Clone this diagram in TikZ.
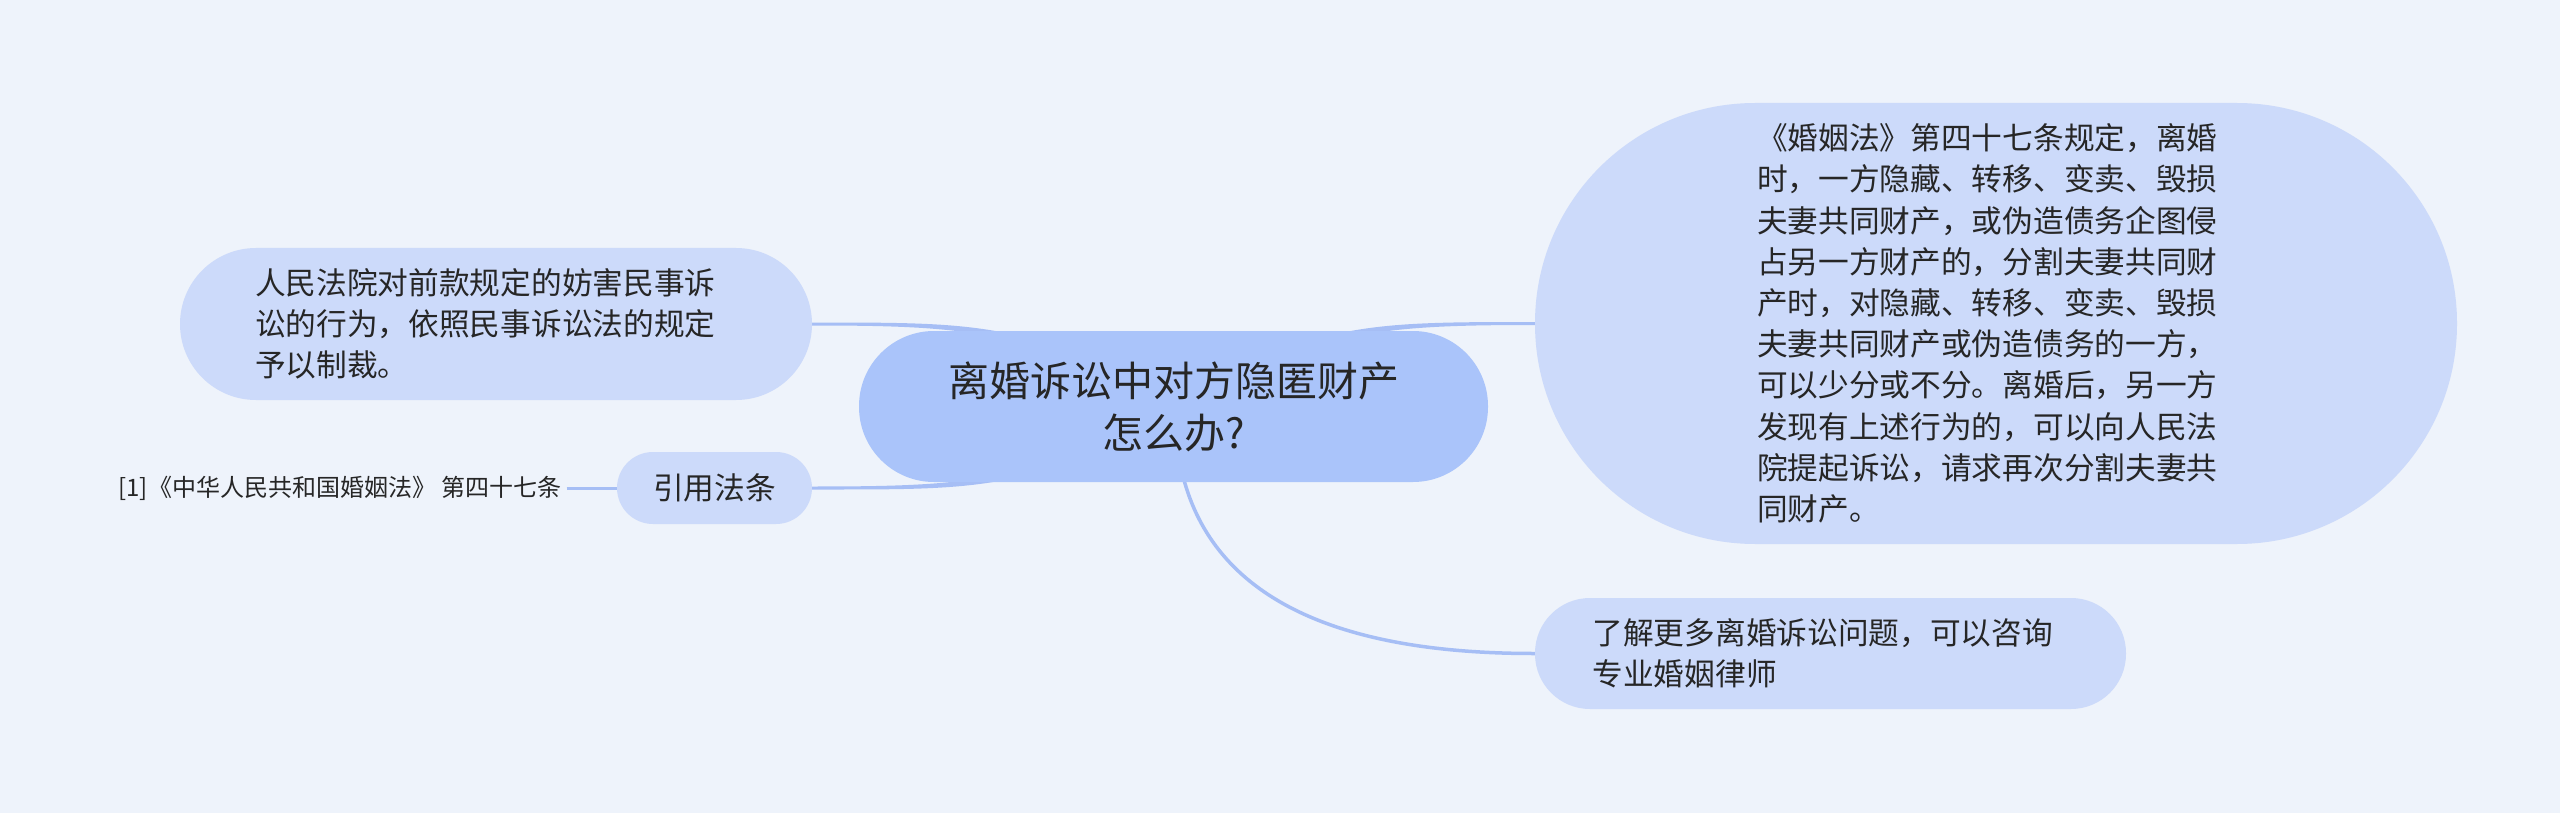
\documentclass[tikz,border=0pt]{standalone}
\usepackage{fontspec}
\newfontfamily\cjk{Noto Sans CJK SC}
\usetikzlibrary{calc}
\definecolor{bgc}{RGB}{238,243,251}
\definecolor{mainfill}{RGB}{170,196,250}
\definecolor{subfill}{RGB}{204,218,250}
\definecolor{linkc}{RGB}{166,190,245}
\definecolor{txt}{RGB}{38,38,38}
\pgfdeclarelayer{bgl}
\pgfdeclarelayer{links}
\pgfsetlayers{bgl,links,main}
\begin{document}
\begin{tikzpicture}[x=1pt,y=-1pt,
  centernode/.style={fill=mainfill, text=txt, rounded corners=75pt, minimum width=629pt, minimum height=151pt, align=center, font=\cjk\fontsize{41}{52}\selectfont, inner sep=0pt},
  subnode/.style={fill=subfill, text=txt, align=left, font=\cjk\fontsize{30.7}{41.2}\selectfont, inner sep=0pt},
  labeltext/.style={text=txt, font=\cjk\fontsize{24}{30}\selectfont, inner sep=5pt},
  link/.style={draw=linkc, line width=3.5pt},
  taperlink/.style={fill=linkc}
]
\begin{pgfonlayer}{bgl}
\fill[bgc] (0,0) rectangle (2560,813);
\end{pgfonlayer}
\useasboundingbox (0,0) rectangle (2560,813);

% central topic
\node[centernode] (c) at (1173.5,406.5) {离婚诉讼中对方隐匿财产\\怎么办?};

% left children
\node[subnode, rounded corners=76pt, minimum width=632pt, minimum height=152pt, text width=482pt] (l1) at (496,324)
  {人民法院对前款规定的妨害民事诉\\讼的行为，依照民事诉讼法的规定\\予以制裁。};
\node[subnode, rounded corners=36pt, minimum width=195pt, minimum height=72pt, align=center] (cite) at (714.5,488) {引用法条};
\node[labeltext] (ref) at (340,488) {[1]《中华人民共和国婚姻法》 第四十七条};

% right children
\node[subnode, rounded corners=220pt, minimum width=922pt, minimum height=441pt, text width=478pt] (law) at (1996,323.5)
  {《婚姻法》第四十七条规定，离婚\\时，一方隐藏、转移、变卖、毁损\\夫妻共同财产，或伪造债务企图侵\\占另一方财产的，分割夫妻共同财\\产时，对隐藏、转移、变卖、毁损\\夫妻共同财产或伪造债务的一方，\\可以少分或不分。离婚后，另一方\\发现有上述行为的，可以向人民法\\院提起诉讼，请求再次分割夫妻共\\同财产。};
\node[subnode, rounded corners=55pt, minimum width=591pt, minimum height=111pt, text width=476pt] (more) at (1830.5,653.5)
  {了解更多离婚诉讼问题，可以咨询\\专业婚姻律师};

\begin{pgfonlayer}{links}
% central -> l1
\fill[taperlink] ($(l1.east)+(0,-1.5)$) .. controls +(140,0) and +(-100,-40) .. ($(c.center)+(-73,-44)$)
  -- ($(c.center)+(-73,-36)$) .. controls +(-100,-40) and +(140,0) .. ($(l1.east)+(0,1.5)$) -- cycle;
% central -> cite
\fill[taperlink] ($(cite.east)+(0,-1.5)$) .. controls +(140,0) and +(-100,40) .. ($(c.center)+(-73,36)$)
  -- ($(c.center)+(-73,44)$) .. controls +(-100,40) and +(140,0) .. ($(cite.east)+(0,1.5)$) -- cycle;
% central -> law
\fill[taperlink] ($(law.west)+(0,-1.5)$) .. controls +(-140,0) and +(100,-40) .. ($(c.center)+(73,-44)$)
  -- ($(c.center)+(73,-36)$) .. controls +(100,-40) and +(-140,0) .. ($(law.west)+(0,1.5)$) -- cycle;
% central -> more
\draw[link] ($(c.south)+(10,-4)$) .. controls ($(c.south)+(41,112.7)$) and ($(c.south)+(158,171.5)$) .. (more.west);
% cite -> ref
\draw[draw=linkc, line width=3pt] (ref.east) -- (cite.west);
\end{pgfonlayer}
\end{tikzpicture}
\end{document}
